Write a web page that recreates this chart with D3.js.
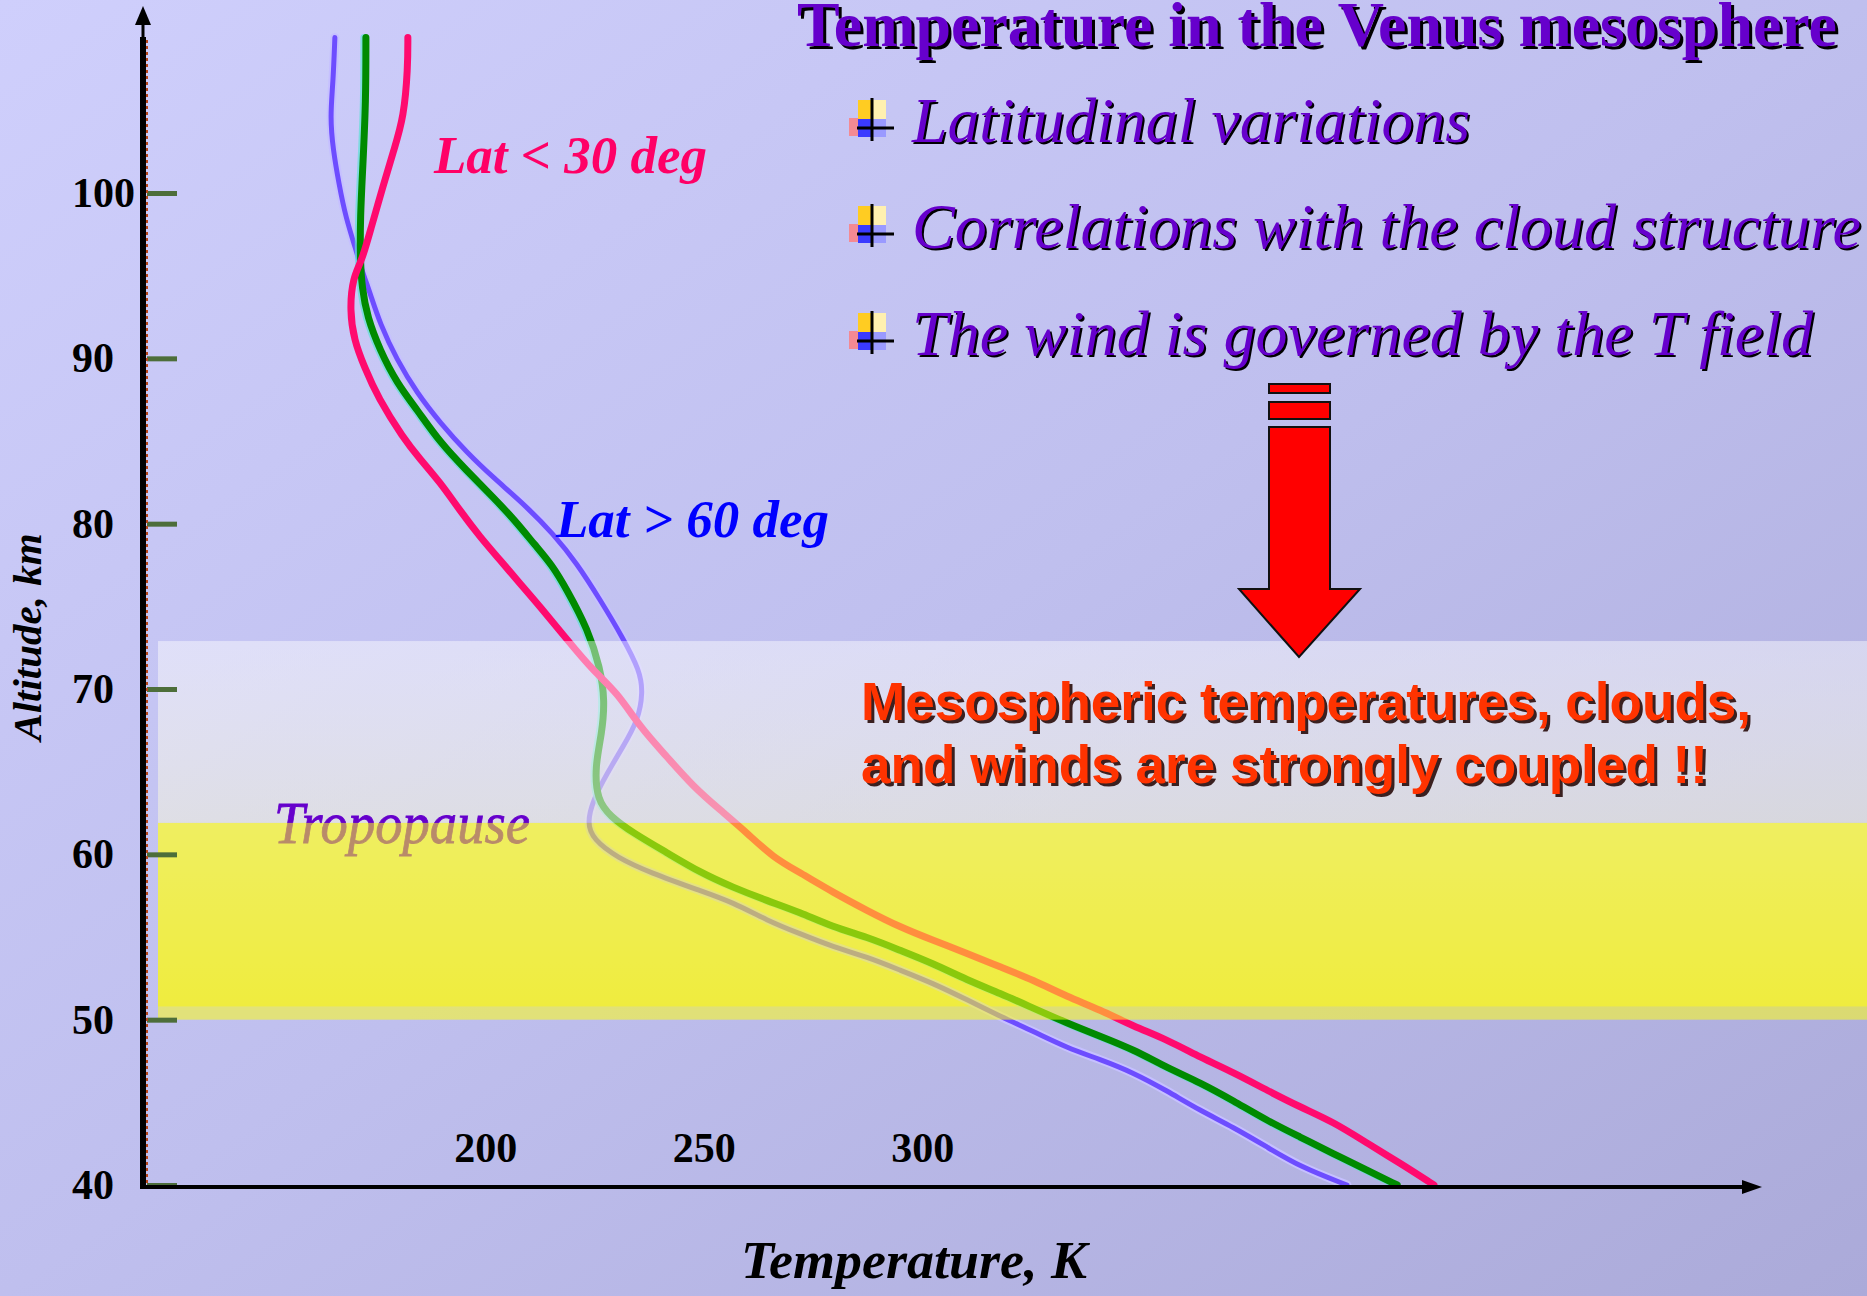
<!DOCTYPE html>
<html>
<head>
<meta charset="utf-8">
<script src="https://cdn.jsdelivr.net/npm/d3@7"></script>
<style>
  html, body { margin: 0; padding: 0; overflow: hidden; background: #c4c4f0; }
  svg { display: block; }
</style>
</head>
<body>
<svg id="chart" width="1867" height="1296"></svg>
<script>
// ---- Data: temperature profiles, [temperature K, altitude km] ----
const altitudeTicks = [40, 50, 60, 70, 80, 90, 100];
const temperatureTicks = [200, 250, 300];

// Lat < 30 deg
const lowLatitude = [
  [182.3,109.4],[182.3,107.6],[181.4,104.6],[179.1,102.6],[176.6,100.4],[173.9,97.9],
  [171.8,95.9],[169.7,94.9],[169.0,92.9],[170.0,91.1],[172.3,89.5],[175.5,87.6],
  [181.2,85.2],[185.1,83.9],[189.7,82.5],[194.2,80.8],[198.8,79.2],[203.4,77.8],
  [207.9,76.4],[212.5,75.0],[218.7,73.0],[224.7,71.1],[230.2,69.8],[235.4,67.7],
  [241.6,65.9],[247.6,64.1],[253.7,62.7],[259.9,61.3],[265.9,59.8],[272.0,58.9],
  [279.6,57.7],[287.4,56.6],[294.9,55.6],[302.5,54.8],[310.3,54.0],[317.8,53.2],
  [325.4,52.4],[333.1,51.4],[340.7,50.6],[348.3,49.6],[356.0,48.8],[363.8,47.7],
  [371.3,46.8],[379.1,45.7],[386.6,44.7],[394.2,43.8],[402.0,42.5],[409.5,41.3],
  [417.1,40.0]
];

// Mid latitudes
const midLatitude = [
  [172.7,109.4],[172.7,105.6],[172.0,101.6],[171.4,98.5],[171.4,95.9],[171.8,94.3],
  [173.0,92.5],[175.9,90.5],[179.8,88.5],[184.4,86.9],[189.7,84.9],[195.8,83.2],
  [201.8,81.6],[206.8,80.2],[211.4,78.7],[215.3,77.5],[218.7,76.0],[223.5,73.6],
  [226.3,71.3],[227.4,69.3],[226.7,67.3],[225.1,65.3],[225.6,63.3],[228.6,62.3],
  [233.8,61.3],[241.6,60.1],[249.2,58.9],[256.7,58.0],[264.5,57.2],[272.0,56.5],
  [279.6,55.6],[287.4,55.0],[294.9,54.2],[302.5,53.4],[310.3,52.4],[317.8,51.6],
  [325.4,50.7],[333.1,49.8],[340.7,49.0],[348.3,48.2],[356.0,47.1],[363.6,46.2],
  [371.2,45.1],[378.9,43.9],[386.5,42.9],[394.0,41.9],[401.8,40.9],[408.7,40.0]
];

// Lat > 60 deg
const highLatitude = [
  [165.6,109.4],[165.2,106.7],[164.5,104.6],[165.2,102.6],[166.5,100.6],[168.1,98.5],
  [170.4,96.6],[171.8,95.3],[173.6,94.0],[175.9,92.1],[179.8,89.9],[184.4,87.9],
  [189.7,86.1],[195.8,84.3],[201.8,82.8],[209.6,81.0],[215.5,79.4],[221.0,77.6],
  [226.3,75.4],[231.5,73.1],[235.4,71.1],[236.1,69.8],[235.0,68.1],[231.5,66.5],
  [227.9,64.9],[224.7,63.3],[223.3,61.9],[224.7,60.9],[230.2,59.8],[237.7,58.9],
  [249.2,57.8],[256.7,57.1],[264.5,56.0],[272.0,55.2],[279.6,54.4],[287.4,53.8],
  [294.9,53.0],[302.5,52.2],[310.3,51.2],[317.8,50.2],[325.4,49.3],[333.1,48.3],
  [340.7,47.6],[348.3,46.8],[356.0,45.7],[363.6,44.5],[371.2,43.5],[378.9,42.3],
  [386.5,41.1],[397.2,40.0]
];

// Atmospheric layers, altitude range in km
const hazeLayer = [61.9, 72.9];
const cloudLayer = [50.0, 61.9];
const cloudLayerCore = [50.8, 61.9];

const titleText = "Temperature in the Venus mesosphere";
const bulletTexts = [
  "Latitudinal variations",
  "Correlations with the cloud structure",
  "The wind is governed by the T field"
];
const conclusionLines = [
  "Mesospheric temperatures, clouds,",
  "and winds are strongly coupled !!"
];

// ---- Layout ----
const W = 1867, H = 1296;
const axisX = 143, axisY = 1187;
const x = d3.scaleLinear().domain([200, 300]).range([485.2, 922.2]);
const y = d3.scaleLinear().domain([40, 100]).range([1185, 193]);

const svg = d3.select("#chart");
const defs = svg.append("defs");

function linGrad(id, x1, y1, x2, y2, stops) {
  const g = defs.append("linearGradient").attr("id", id)
    .attr("x1", x1).attr("y1", y1).attr("x2", x2).attr("y2", y2);
  stops.forEach(s => g.append("stop").attr("offset", s[0])
    .attr("stop-color", s[1]).attr("stop-opacity", s[2] == null ? 1 : s[2]));
}
linGrad("bg", 0, 0, 1, 1, [[0, "#cfcffc"], [0.5, "#bfbfee"], [1, "#abaad9"]]);
linGrad("haze", 0, 0, 0, 1, [[0, "#ffffff", 0.45], [1, "#f0f0dc", 0.6]]);
linGrad("cloudBase", 0, 0, 0, 1, [[0, "#dcdab9"], [1, "#dcd66e"]]);

// Background
svg.append("rect").attr("width", W).attr("height", H).attr("fill", "url(#bg)");

const bandLeft = 158;

// Opaque body of the cloud deck (under the profiles)
svg.append("rect")
  .attr("x", bandLeft).attr("width", W - bandLeft)
  .attr("y", y(cloudLayerCore[1])).attr("height", y(cloudLayerCore[0]) - y(cloudLayerCore[1]))
  .attr("fill", "url(#cloudBase)");

// ---- Temperature profiles ----
const line = d3.line()
  .x(d => x(d[0])).y(d => y(d[1]))
  .curve(d3.curveBasis);

const profiles = svg.append("g").attr("fill", "none")
  .attr("stroke-linecap", "round").attr("stroke-linejoin", "round");

profiles.append("path").datum(highLatitude).attr("d", line)
  .attr("stroke", "#c6c0ff").attr("stroke-width", 9);
profiles.append("path").datum(highLatitude).attr("d", line)
  .attr("stroke", "#6d4dff").attr("stroke-width", 5);

profiles.append("path").datum(midLatitude).attr("d", line)
  .attr("transform", "translate(-2,0)")
  .attr("stroke", "#5fe0d6").attr("stroke-width", 7).attr("stroke-opacity", 0.7);
profiles.append("path").datum(midLatitude).attr("d", line)
  .attr("stroke", "#008a00").attr("stroke-width", 7);

profiles.append("path").datum(lowLatitude).attr("d", line)
  .attr("stroke", "#ff0a6e").attr("stroke-width", 7);

// Haze layer veil
svg.append("rect")
  .attr("x", bandLeft).attr("width", W - bandLeft)
  .attr("y", y(hazeLayer[1])).attr("height", y(hazeLayer[0]) - y(hazeLayer[1]))
  .attr("fill", "url(#haze)");

// Tropopause label (tinted by the cloud veil below it)
svg.append("text")
  .attr("x", 274).attr("y", 843)
  .attr("font-family", "'Liberation Serif', 'DejaVu Serif', serif")
  .attr("font-style", "italic").attr("font-size", 60)
  .attr("textLength", 256).attr("lengthAdjust", "spacingAndGlyphs")
  .attr("stroke", "#6600cc").attr("stroke-width", 0.8)
  .attr("fill", "#6600cc").text("Tropopause");

// Cloud veil (translucent yellow over profiles and label)
svg.append("rect")
  .attr("x", bandLeft).attr("width", W - bandLeft)
  .attr("y", y(cloudLayer[1])).attr("height", y(cloudLayer[0]) - y(cloudLayer[1]))
  .attr("fill", "#ffff16").attr("fill-opacity", 0.54);

// ---- Axes ----
const serif = "'Liberation Serif', 'Times New Roman', serif";

const yAxis = d3.axisLeft(y).tickValues(altitudeTicks)
  .tickSizeInner(-30).tickSizeOuter(0).tickPadding(0);
const gy = svg.append("g").attr("transform", `translate(${axisX + 4},0)`).call(yAxis);
gy.select(".domain").remove();
gy.selectAll(".tick line").attr("stroke", "#4d6e3a").attr("stroke-width", 5);
gy.selectAll(".tick text")
  .attr("x", 72 - axisX - 4).attr("text-anchor", "start")
  .attr("font-family", serif).attr("font-weight", "bold").attr("font-size", 42)
  .attr("fill", "#000");

const xAxis = d3.axisTop(x).tickValues(temperatureTicks).tickSize(0).tickPadding(25);
const gx = svg.append("g").attr("transform", `translate(0,${axisY})`).call(xAxis);
gx.select(".domain").remove();
gx.selectAll(".tick text")
  .attr("font-family", serif).attr("font-weight", "bold").attr("font-size", 42)
  .attr("fill", "#000");

// Vertical axis line with arrow
svg.append("line").attr("x1", axisX).attr("x2", axisX).attr("y1", 22).attr("y2", 40)
  .attr("stroke", "#000").attr("stroke-width", 3);
svg.append("rect").attr("x", axisX - 3).attr("y", 37).attr("width", 6).attr("height", axisY - 37 + 2)
  .attr("fill", "#000");
svg.append("line").attr("x1", axisX + 4).attr("x2", axisX + 4).attr("y1", 40).attr("y2", axisY)
  .attr("stroke", "#b8461a").attr("stroke-width", 2).attr("stroke-dasharray", "3,3");
svg.append("path").attr("d", `M${axisX},6 L${axisX - 8},25 L${axisX + 8},25 Z`).attr("fill", "#000");

// Horizontal axis line with arrow
svg.append("line").attr("x1", axisX).attr("x2", 1746).attr("y1", axisY).attr("y2", axisY)
  .attr("stroke", "#000").attr("stroke-width", 4);
svg.append("path").attr("d", `M1762,${axisY} L1742,${axisY - 7} L1742,${axisY + 7} Z`).attr("fill", "#000");

// Axis titles
svg.append("text")
  .attr("transform", "translate(41,637) rotate(-90)")
  .attr("text-anchor", "middle")
  .attr("font-family", serif).attr("font-weight", "bold").attr("font-style", "italic")
  .attr("font-size", 41).attr("fill", "#000").text("Altitude, km");

svg.append("text")
  .attr("x", 741).attr("y", 1278)
  .attr("textLength", 346).attr("lengthAdjust", "spacingAndGlyphs")
  .attr("font-family", serif).attr("font-weight", "bold").attr("font-style", "italic")
  .attr("font-size", 52).attr("fill", "#000").text("Temperature, K");

// Profile labels
svg.append("text").attr("x", 434).attr("y", 173)
  .attr("font-family", serif).attr("font-weight", "bold").attr("font-style", "italic")
  .attr("font-size", 53).attr("fill", "#ff0066").text("Lat < 30 deg");
svg.append("text").attr("x", 556).attr("y", 537)
  .attr("font-family", serif).attr("font-weight", "bold").attr("font-style", "italic")
  .attr("font-size", 53).attr("fill", "#0000ff").text("Lat > 60 deg");

// ---- Text with a drop shadow ----
function shadowText(g, txt, px, py, len, attrs, shadow, dx, dy) {
  [[dx, dy, shadow], [0, 0, attrs.fill]].forEach(([ox, oy, col]) => {
    const t = g.append("text").attr("x", px + ox).attr("y", py + oy)
      .attr("fill", col).text(txt);
    if (len) t.attr("textLength", len).attr("lengthAdjust", "spacingAndGlyphs");
    Object.entries(attrs).forEach(([k, v]) => { if (k !== "fill") t.attr(k, v); });
  });
}

// Title
shadowText(svg, titleText, 797, 46, 1040, {
  "font-family": serif, "font-weight": "bold", "font-size": 63, fill: "#6600cc"
}, "#000", 3, 3);

// ---- Bullet list ----
const bulletBase = [142, 248, 355];
const bulletLen = [558, 949, 901];
bulletTexts.forEach((t, i) => {
  const b = bulletBase[i];
  const g = svg.append("g");
  g.append("rect").attr("x", 849).attr("y", b - 24).attr("width", 19).attr("height", 18)
    .attr("fill", "#ff7b7b").attr("fill-opacity", 0.8);
  g.append("rect").attr("x", 858).attr("y", b - 42).attr("width", 14).attr("height", 19).attr("fill", "#ffcc22");
  g.append("rect").attr("x", 872).attr("y", b - 42).attr("width", 14).attr("height", 19).attr("fill", "#fff0b0");
  g.append("rect").attr("x", 858).attr("y", b - 23).attr("width", 14).attr("height", 18).attr("fill", "#3a3aff");
  g.append("rect").attr("x", 872).attr("y", b - 23).attr("width", 14).attr("height", 18).attr("fill", "#9a9aff");
  g.append("line").attr("x1", 872).attr("x2", 872).attr("y1", b - 44).attr("y2", b - 1)
    .attr("stroke", "#000").attr("stroke-width", 3);
  g.append("line").attr("x1", 857).attr("x2", 894).attr("y1", b - 14).attr("y2", b - 14)
    .attr("stroke", "#000").attr("stroke-width", 3);
  shadowText(svg, t, 912, b, bulletLen[i], {
    "font-family": serif, "font-style": "italic", "font-size": 64, fill: "#6600cc"
  }, "#000", 2, 2);
});

// ---- Red arrow ----
const arrow = svg.append("g").attr("fill", "#ff0000").attr("stroke", "#111").attr("stroke-width", 2);
arrow.append("rect").attr("x", 1269).attr("y", 384).attr("width", 61).attr("height", 9);
arrow.append("rect").attr("x", 1269).attr("y", 402).attr("width", 61).attr("height", 17);
arrow.append("path").attr("d",
  "M1269,427 L1330,427 L1330,589 L1360,589 L1299,657 L1239,589 L1269,589 Z");

// ---- Conclusion ----
const conclusionBase = [720, 783];
const conclusionLen = [890, 847];
conclusionLines.forEach((t, i) => {
  shadowText(svg, t, 861, conclusionBase[i], conclusionLen[i], {
    "font-family": "'Liberation Sans', Arial, sans-serif", "font-weight": "bold",
    "font-size": 53, fill: "#ff3300"
  }, "#3a2020", 3, 3);
});
</script>
</body>
</html>
